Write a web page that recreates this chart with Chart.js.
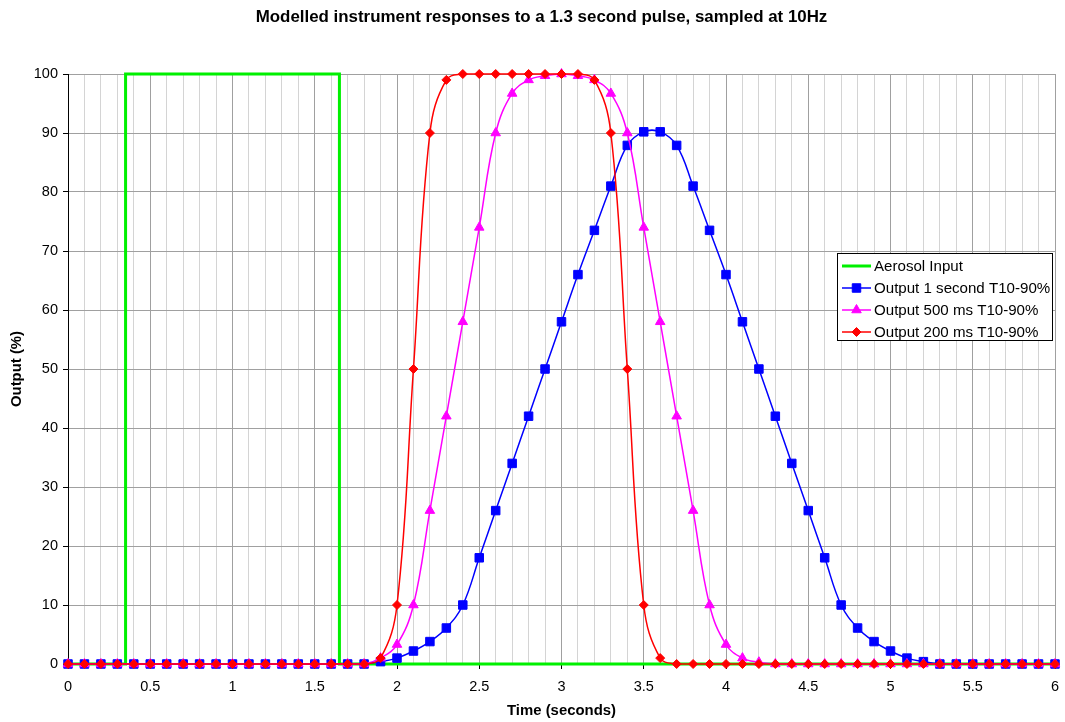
<!DOCTYPE html>
<html>
<head>
<meta charset="utf-8">
<title>Modelled instrument responses</title>
<script src="https://cdn.jsdelivr.net/npm/chart.js@4.4.1/dist/chart.umd.min.js"></script>
<style>
  html, body { margin: 0; padding: 0; background: #fff; }
  #wrap { position: relative; width: 1065px; height: 722px; }
</style>
</head>
<body>
<div id="wrap"><canvas id="chart"></canvas></div>
<script>
// ---------------------------------------------------------------------------
// Data (read off the reference chart, sampled at 10 Hz)
// ---------------------------------------------------------------------------

var TITLE = 'Modelled instrument responses to a 1.3 second pulse, sampled at 10Hz';
var X_TITLE = 'Time (seconds)';
var Y_TITLE = 'Output (%)';

var SERIES_LABELS = [
  'Aerosol Input',
  'Output 1 second T10-90%',
  'Output 500 ms T10-90%',
  'Output 200 ms T10-90%'
];

var TIME_S = [
  0, 0.1, 0.2, 0.3, 0.4, 0.5, 0.6, 0.7, 0.8, 0.9,
  1, 1.1, 1.2, 1.3, 1.4, 1.5, 1.6, 1.7, 1.8, 1.9,
  2, 2.1, 2.2, 2.3, 2.4, 2.5, 2.6, 2.7, 2.8, 2.9,
  3, 3.1, 3.2, 3.3, 3.4, 3.5, 3.6, 3.7, 3.8, 3.9,
  4, 4.1, 4.2, 4.3, 4.4, 4.5, 4.6, 4.7, 4.8, 4.9,
  5, 5.1, 5.2, 5.3, 5.4, 5.5, 5.6, 5.7, 5.8, 5.9,
  6
];

// square input pulse: 0.35 s -> 1.65 s
var AEROSOL_T = [0, 0.35, 0.35, 1.65, 1.65, 6];
var AEROSOL_V = [0, 0, 100, 100, 0, 0];

var OUT_1S = [
  0, 0, 0, 0, 0, 0, 0, 0, 0, 0,
  0, 0, 0, 0, 0, 0, 0, 0, 0, 0.4,
  1.0, 2.2, 3.8, 6.1, 10, 18, 26, 34, 42, 50,
  58, 66, 73.5, 81, 87.9, 90.2, 90.2, 87.9, 81, 73.5,
  66, 58, 50, 42, 34, 26, 18, 10, 6.1, 3.8,
  2.2, 1.0, 0.4, 0, 0, 0, 0, 0, 0, 0,
  0
];

var OUT_500MS = [
  0, 0, 0, 0, 0, 0, 0, 0, 0, 0,
  0, 0, 0, 0, 0, 0, 0, 0, 0, 1.0,
  3.3, 10, 26, 42, 58, 74, 90, 96.7, 99, 99.7,
  100, 99.7, 99, 96.7, 90, 74, 58, 42, 26, 10,
  3.3, 1.0, 0.3, 0, 0, 0, 0, 0, 0, 0,
  0, 0, 0, 0, 0, 0, 0, 0, 0, 0,
  0
];

var OUT_200MS = [
  0, 0, 0, 0, 0, 0, 0, 0, 0, 0,
  0, 0, 0, 0, 0, 0, 0, 0, 0, 1.0,
  10, 50, 90, 99, 100, 100, 100, 100, 100, 100,
  100, 100, 99, 90, 50, 10, 1.0, 0, 0, 0,
  0, 0, 0, 0, 0, 0, 0, 0, 0, 0,
  0, 0, 0, 0, 0, 0, 0, 0, 0, 0,
  0
];

// ---------------------------------------------------------------------------
// Styling
// ---------------------------------------------------------------------------

var FONT = '"Liberation Sans", Arial, sans-serif';
var GREEN = '#00f000';
var BLUE = '#0000ff';
var MAGENTA = '#ff00ff';
var RED = '#ff0000';

var GRID_MAJOR = '#a0a0a0';
var GRID_MINOR = '#d4d4d4';

function pairs(xs, ys) {
  return xs.map(function (x, i) { return { x: x, y: ys[i] }; });
}

function isMajorX(v) {
  return Math.round(v * 10) % 5 === 0;
}

function series(label, values, colour, style, radius, order) {
  return {
    label: label,
    data: pairs(TIME_S, values),
    borderColor: colour,
    backgroundColor: colour,
    borderWidth: 1.5,
    tension: 0.4,
    pointStyle: style,
    pointRadius: radius,
    pointHoverRadius: radius,
    pointBorderWidth: 1,
    pointBorderColor: colour,
    pointBackgroundColor: colour,
    clip: false,
    order: order
  };
}

// ---------------------------------------------------------------------------
// Title + boxed legend inside the plot
// ---------------------------------------------------------------------------

function drawMarker(ctx, style, x, y, r) {
  ctx.beginPath();
  if (style === 'rect') {
    var s = r * Math.SQRT1_2;
    ctx.rect(x - s, y - s, 2 * s, 2 * s);
  } else if (style === 'triangle') {
    ctx.moveTo(x, y - r);
    ctx.lineTo(x + r * 0.866, y + r / 2);
    ctx.lineTo(x - r * 0.866, y + r / 2);
    ctx.closePath();
  } else if (style === 'rectRot') {
    ctx.moveTo(x - r, y); ctx.lineTo(x, y - r);
    ctx.lineTo(x + r, y); ctx.lineTo(x, y + r);
    ctx.closePath();
  } else {
    return;
  }
  ctx.fill();
  ctx.stroke();
}

var overlay = {
  id: 'overlay',
  afterDraw: function (chart) {
    var ctx = chart.ctx;
    ctx.save();

    ctx.fillStyle = '#000';
    ctx.font = 'bold 16.9px ' + FONT;
    ctx.textAlign = 'center';
    ctx.textBaseline = 'middle';
    ctx.fillText(TITLE, 541.5, 17);

    // legend box
    var bx = 837.5, by = 253.5, bw = 215, bh = 87;
    ctx.fillStyle = '#fff';
    ctx.fillRect(bx, by, bw, bh);
    ctx.strokeStyle = '#000';
    ctx.lineWidth = 1;
    ctx.strokeRect(bx, by, bw, bh);

    ctx.font = '15.1px ' + FONT;
    ctx.textAlign = 'left';
    chart.data.datasets.forEach(function (ds, i) {
      var y = 266 + i * 22;
      ctx.strokeStyle = ds.borderColor;
      ctx.fillStyle = ds.borderColor;
      ctx.lineWidth = ds.borderWidth;
      ctx.beginPath();
      ctx.moveTo(842, y);
      ctx.lineTo(871, y);
      ctx.stroke();
      ctx.lineWidth = 1;
      if (ds.pointRadius) drawMarker(ctx, ds.pointStyle, 856.5, y, ds.pointRadius);
      ctx.fillStyle = '#000';
      ctx.fillText(ds.label, 874, y + 0.5);
    });

    ctx.restore();
  }
};

// ---------------------------------------------------------------------------
// Chart
// ---------------------------------------------------------------------------

var datasets = [
  {
    label: SERIES_LABELS[0],
    data: pairs(AEROSOL_T, AEROSOL_V),
    borderColor: GREEN,
    backgroundColor: GREEN,
    borderWidth: 3,
    tension: 0,
    pointRadius: 0,
    pointHoverRadius: 0,
    clip: false,
    order: 4
  },
  series(SERIES_LABELS[1], OUT_1S, BLUE, 'rect', 6, 3),
  series(SERIES_LABELS[2], OUT_500MS, MAGENTA, 'triangle', 5.5, 2),
  series(SERIES_LABELS[3], OUT_200MS, RED, 'rectRot', 4.5, 1)
];

new Chart(document.getElementById('chart'), {
  type: 'line',
  data: { datasets: datasets },
  options: {
    responsive: true,
    maintainAspectRatio: false,
    animation: false,
    layout: { padding: { top: 74, right: 10, bottom: 0, left: 0 } },
    plugins: {
      legend: { display: false },
      title: { display: false },
      tooltip: { enabled: false }
    },
    scales: {
      x: {
        type: 'linear',
        min: 0,
        max: 6,
        border: { color: '#000', width: 1 },
        grid: {
          color: function (c) { return c.tick && isMajorX(c.tick.value) ? GRID_MAJOR : GRID_MINOR; },
          tickColor: function (c) { return c.tick && isMajorX(c.tick.value) ? '#000' : 'rgba(0,0,0,0)'; },
          tickLength: 5
        },
        ticks: {
          stepSize: 0.1,
          autoSkip: false,
          maxRotation: 0,
          maxTicksLimit: 100,
          padding: 0,
          color: '#000',
          // tall line box pushes the labels down without widening the side padding
          font: { family: FONT, size: 14.5, lineHeight: 2.5 },
          callback: function (v) { return isMajorX(v) ? String(Math.round(v * 10) / 10) : ''; }
        },
        title: {
          display: true,
          text: X_TITLE,
          color: '#000',
          font: { family: FONT, size: 14.9, weight: 'bold' },
          padding: { top: 0, bottom: 2 }
        },
        afterFit: function (scale) { scale.height = 58; }
      },
      y: {
        min: 0,
        max: 100,
        border: { color: '#000', width: 1 },
        grid: { color: GRID_MAJOR, tickColor: '#000', tickLength: 5 },
        ticks: {
          stepSize: 10,
          padding: 5,
          color: '#000',
          font: { family: FONT, size: 14.5 }
        },
        title: {
          display: true,
          text: Y_TITLE,
          color: '#000',
          font: { family: FONT, size: 14.9, weight: 'bold' },
          padding: { top: 8, bottom: 0 }
        },
        afterFit: function (scale) { scale.width = 68; }
      }
    }
  },
  plugins: [overlay]
});
</script>
</body>
</html>
